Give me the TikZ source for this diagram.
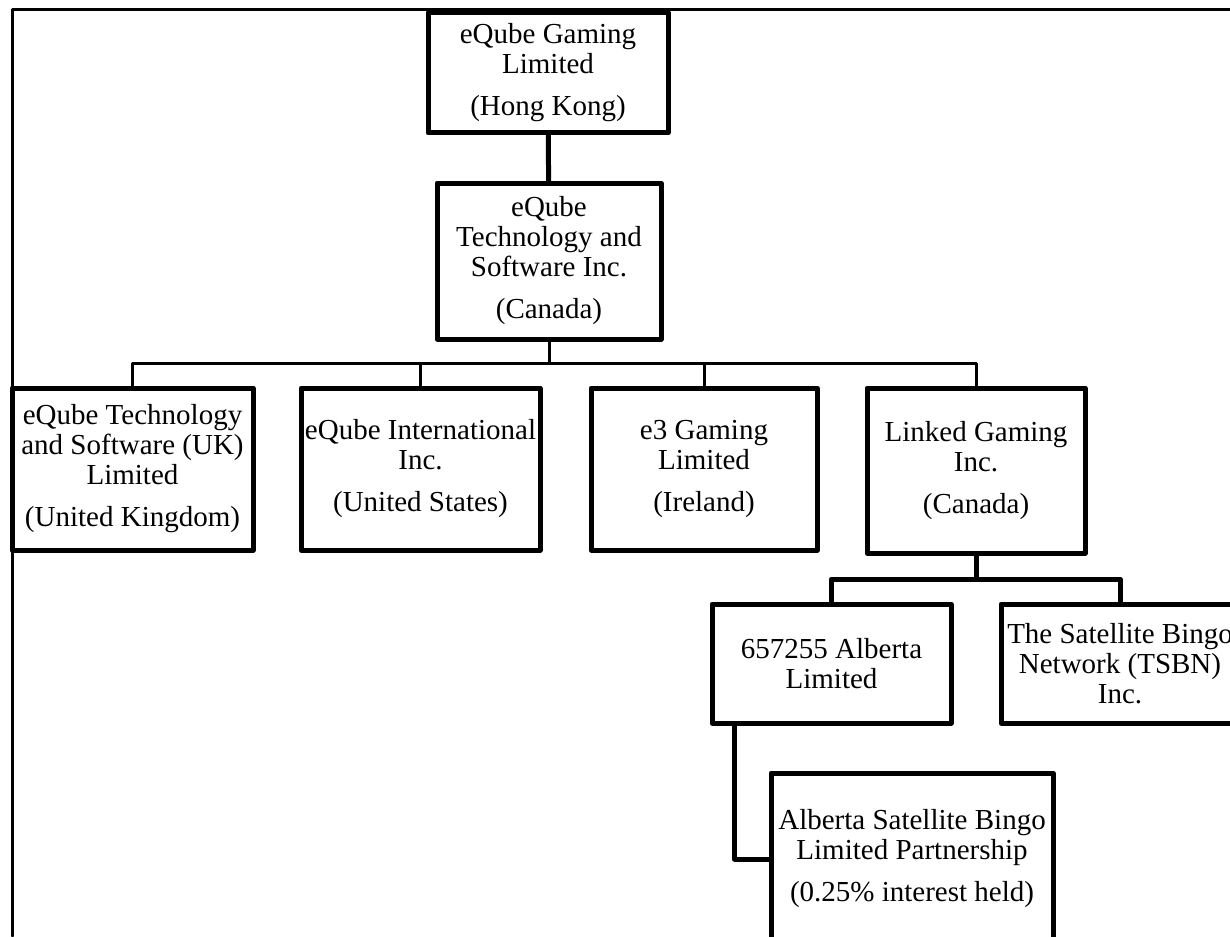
\documentclass[tikz,border=0pt]{standalone}
\usepackage{fontspec}
\setmainfont{Liberation Serif}
\begin{document}
\begin{tikzpicture}[x=1pt,y=-1pt,line join=round,line cap=round,
 co/.style={draw,line width=5pt,inner sep=0pt,align=center,font=\fontsize{29}{30}\selectfont},
 bus/.style={line width=3pt},
 own/.style={line width=5pt}]
 \useasboundingbox (0,0) rectangle (1230,936);
 \draw[line width=3pt] (12,936)--(12,10)--(1230,10);
 \node[co,minimum width=240pt,minimum height=120pt] (hk) at (548,73) {eQube Gaming\\Limited\\[12pt](Hong Kong)};
 \node[co,minimum width=224pt,minimum height=156pt] (tsi) at (549,261) {eQube\\Technology and\\Software Inc.\\[12pt](Canada)};
 \node[co,minimum width=241pt,minimum height=162pt] (uk) at (132.5,469) {eQube Technology\\and Software (UK)\\Limited\\[12pt](United Kingdom)};
 \node[co,minimum width=239pt,minimum height=162pt] (intl) at (420.5,469) {eQube International\\Inc.\\[12pt](United States)};
 \node[co,minimum width=226pt,minimum height=162pt] (e3) at (704,469) {e3 Gaming\\Limited\\[12pt](Ireland)};
 \node[co,minimum width=218pt,minimum height=165pt] (lg) at (976,470.5) {Linked Gaming\\Inc.\\[12pt](Canada)};
 \node[co,minimum width=239pt,minimum height=119pt] (alb) at (831.5,663.5) {657255 Alberta\\Limited};
 \node[co,minimum width=238pt,minimum height=119pt] (tsbn) at (1120,663.5) {The Satellite Bingo\\Network (TSBN)\\Inc.};
 \node[co,minimum width=282pt,minimum height=172pt] (asb) at (912,859) {Alberta Satellite Bingo\\Limited Partnership\\[12pt](0.25\% interest held)};
 \coordinate (b1) at (549,363);
 \coordinate (b2) at (976,579);
 \draw[own] (hk)--(tsi);
 \draw[bus] (tsi)--(b1);
 \foreach \n in {uk,intl,e3,lg} \draw[bus] (b1)-|(\n.north);
 \draw[own] (lg)--(b2);
 \foreach \n in {alb,tsbn} \draw[own] (b2)-|(\n.north);
 \draw[own] ([xshift=25pt]alb.south west)|-(asb.west);
\end{tikzpicture}
\end{document}
